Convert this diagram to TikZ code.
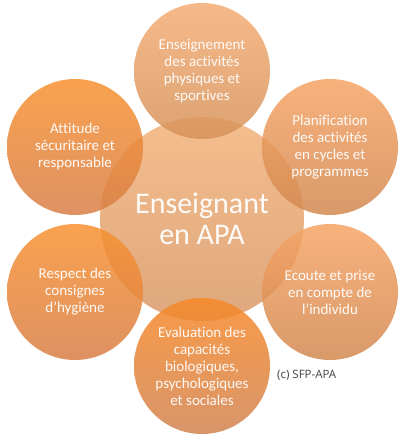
\documentclass[tikz,border=0pt]{standalone}
\usepackage{fontspec}
\setmainfont{Carlito}[Ligatures={NoCommon}]
\newfontfamily\copyfont{Open Sans}
\definecolor{lT}{RGB}{248,145,48}
\definecolor{lB}{RGB}{216,126,70}
\definecolor{tT}{RGB}{245,173,117}
\definecolor{tB}{RGB}{214,146,89}
\definecolor{rT}{RGB}{246,164,101}
\definecolor{rB}{RGB}{210,136,80}
\definecolor{bT}{RGB}{247,136,39}
\definecolor{bB}{RGB}{210,131,80}
\definecolor{cT}{RGB}{242,178,122}
\definecolor{cB}{RGB}{216,152,102}
\definecolor{copygray}{RGB}{64,64,64}
\tikzset{
  bubble/.style={circle, minimum size=136pt, inner sep=0pt, fill opacity=0.85, draw=none},
  hub/.style={circle, minimum size=204pt, inner sep=0pt, fill opacity=0.85, draw=none},
  smalltext/.style={text=white, text opacity=0.95, align=center, font=\fontsize{15}{17}\selectfont},
  bigtext/.style={text=white, text opacity=0.95, align=center, font=\fontsize{30}{31}\selectfont},
}
\begin{document}
\begin{tikzpicture}[x=1pt,y=-1pt]
\useasboundingbox (0,0) rectangle (407,438);
\node[hub, top color=cT, bottom color=cB] (c) at (202,219) {};
\node[bubble, top color=tT, bottom color=tB] (t) at (202,71) {};
\node[bubble, top color=lT, bottom color=lB] (tl) at (75,147) {};
\node[bubble, top color=rT, bottom color=rB] (tr) at (330,147) {};
\node[bubble, top color=lT, bottom color=lB] (bl) at (75,292) {};
\node[bubble, top color=rT, bottom color=rB] (br) at (330,292) {};
\node[bubble, top color=bT, bottom color=bB] (b) at (202,366) {};
\node[bigtext] (ct) at (c) {Enseignant\\en APA};
\node[smalltext] (tt) at (t) {Enseignement\\des activités\\physiques et\\sportives};
\node[smalltext] (tlt) at (tl) {Attitude\\sécuritaire et\\responsable};
\node[smalltext] (trt) at (tr) {Planification\\des activités\\en cycles et\\programmes};
\node[smalltext] (blt) at (bl) {Respect des\\consignes\\d{\char"27}hygiène};
\node[smalltext] (brt) at (br) {Ecoute et prise\\en compte de\\l{\char"27}individu};
\node[smalltext] (bt) at (b) {Evaluation des\\capacités\\biologiques,\\psychologiques\\et sociales};
\node[text=copygray, font=\copyfont\fontsize{11.5}{13}\selectfont, anchor=west, inner sep=0pt] (cr) at (277,375) {(c) SFP-APA};
\end{tikzpicture}
\end{document}
